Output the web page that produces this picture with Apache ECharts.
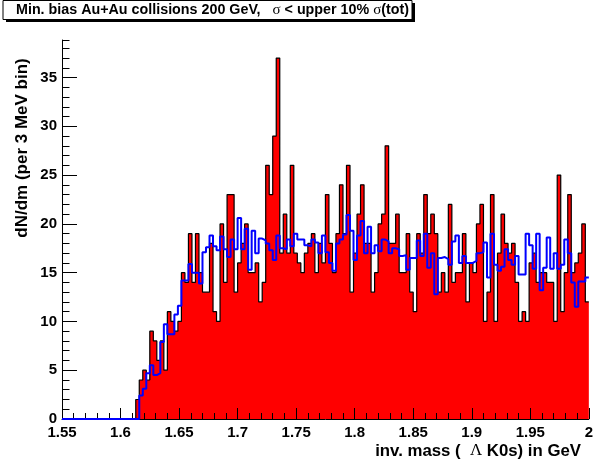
<!DOCTYPE html>
<html>
<head>
<meta charset="utf-8">
<script src="https://cdn.jsdelivr.net/npm/echarts@6/dist/echarts.min.js"></script>
<style>
  html, body { margin: 0; padding: 0; background: #fff; }
  #chart { width: 596px; height: 466px; }
</style>
</head>
<body>
<div id="chart"></div>
<script>
// entries per 3 MeV bin, 150 bins from 1.55 to 2.00 GeV
const signalCounts = [
  0, 0, 0, 0, 0, 0, 0, 0, 0, 0, 0, 0, 0, 0, 0, 0, 0, 0, 0, 0,
  0, 2, 4, 5, 4, 9, 8, 6, 8, 5,
  11, 10, 9, 10, 15, 14, 19, 14, 19, 15,
  13, 13, 18, 11, 10, 20, 14, 23, 23, 13,
  16, 18, 20, 15, 15, 16, 12, 14, 26, 23,
  29, 37, 17, 21, 17, 26, 17, 16, 15, 17,
  18, 19, 15, 18, 16, 23, 18, 15, 19, 24,
  19, 26, 13, 17, 21, 24, 18, 18, 13, 15,
  20, 21, 28, 18, 18, 21, 15, 15, 19, 13,
  11, 19, 17, 23, 19, 21, 19, 13, 15, 13,
  22, 14, 15, 15, 19, 12, 16, 15, 20, 22,
  10, 13, 23, 10, 17, 21, 18, 17, 18, 14,
  10, 11, 10, 16, 17, 14, 15, 15, 14, 14,
  10, 25, 11, 15, 23, 15, 16, 17, 20, 12
];

// mixed-event background (blue)
const backgroundLevel = [
  0, 0, 0, 0, 0, 0, 0, 0, 0, 0, 0, 0, 0, 0, 0, 0, 0, 0, 0, 0,
  0, 0, 2.4, 3.1, 4.7, 5.5, 4.5, 4.7, 7.9, 9.7,
  8.7, 8.7, 10.7, 11.6, 14.2, 14.2, 15.9, 15.0, 15.0, 13.9,
  17.1, 17.6, 18.8, 17.7, 17.3, 18.7, 17.4, 16.6, 18.4, 17.4,
  20.6, 17.4, 19.5, 15.3, 19.3, 17.0, 18.5, 18.3, 18.0, 17.3,
  16.3, 18.8, 17.5, 17.4, 18.4, 17.7, 19.0, 18.4, 18.4, 17.8,
  17.7, 18.4, 18.1, 17.0, 18.8, 17.1, 16.0, 15.2, 18.0, 18.4,
  18.9, 20.9, 19.3, 16.3, 18.8, 20.3, 17.0, 19.7, 17.0, 17.8,
  17.2, 18.4, 18.2, 17.0, 17.5, 17.4, 16.7, 16.8, 15.3, 16.5,
  16.5, 18.3, 16.7, 19.0, 15.5, 17.0, 12.8, 16.5, 16.6, 16.4,
  15.8, 18.2, 18.8, 16.0, 16.7, 16.0, 16.0, 16.2, 17.0, 17.1,
  18.1, 14.5, 19.0, 15.8, 15.2, 15.6, 17.4, 16.3, 15.8, 16.7,
  14.8, 14.8, 19.0, 17.8, 15.4, 19.0, 13.2, 15.5, 18.6, 15.4,
  17.0, 15.4, 15.8, 18.4, 17.0, 14.0, 11.5, 14.1, 14.1, 14.5
];

const X_MIN = 1.55;
const X_MAX = 2.0;
const BIN_WIDTH = 0.003;
const Y_MAX = 38.85;

const xTickValues = [1.55, 1.6, 1.65, 1.7, 1.75, 1.8, 1.85, 1.9, 1.95, 2.0];
const xTickLabels = ['1.55', '1.6', '1.65', '1.7', '1.75', '1.8', '1.85', '1.9', '1.95', '2'];
const yTickValues = [0, 5, 10, 15, 20, 25, 30, 35];
const yTickLabels = ['0', '5', '10', '15', '20', '25', '30', '35'];

const binLow = signalCounts.map((_, i) => +(X_MIN + BIN_WIDTH * i).toFixed(3));

// histogram as step line: left edge of each bin + closing point
const toSteps = vals => vals.map((v, i) => [binLow[i], v]).concat([[X_MAX, vals[vals.length - 1]]]);

const labelFor = (values, labels) => v => {
  const k = values.findIndex(t => Math.abs(t - v) < 1e-6);
  return k < 0 ? '' : labels[k];
};

const FONT = 'Liberation Sans, Arial, sans-serif';
const SYMB = 'Liberation Serif, DejaVu Serif, serif';

const chart = echarts.init(document.getElementById('chart'));

const tickText = { color: '#000', fontFamily: FONT, fontWeight: 'bold', fontSize: 15 };

chart.setOption({
  animation: false,
  backgroundColor: '#fff',
  grid: { left: 62, right: 2, top: 40, bottom: 47 },
  xAxis: [
    {
      type: 'value', position: 'bottom', min: X_MIN, max: X_MAX, interval: 0.05, z: 3,
      axisLine: { show: true, lineStyle: { color: '#000', width: 1 } },
      axisTick: { show: true, inside: true, length: 11, lineStyle: { color: '#000' } },
      axisLabel: Object.assign({ margin: 6, hideOverlap: false, formatter: labelFor(xTickValues, xTickLabels) }, tickText),
      splitLine: { show: false }
    },
    {
      type: 'value', position: 'bottom', min: X_MIN, max: X_MAX, interval: 0.01, z: 3,
      axisLine: { show: false },
      axisTick: { show: true, inside: true, length: 6, lineStyle: { color: '#000' } },
      axisLabel: { show: false },
      splitLine: { show: false }
    }
  ],
  yAxis: [
    {
      type: 'value', position: 'left', min: 0, max: Y_MAX, interval: 5, z: 3,
      axisLine: { show: true, lineStyle: { color: '#000', width: 1 } },
      axisTick: { show: true, inside: true, length: 15, lineStyle: { color: '#000' } },
      axisLabel: Object.assign({ margin: 5, showMaxLabel: false, formatter: labelFor(yTickValues, yTickLabels) }, tickText),
      splitLine: { show: false }
    },
    {
      type: 'value', position: 'left', min: 0, max: Y_MAX, interval: 1, z: 3,
      axisLine: { show: false },
      axisTick: { show: true, inside: true, length: 7.5, lineStyle: { color: '#000' } },
      axisLabel: { show: false },
      splitLine: { show: false }
    }
  ],
  series: [
    {
      name: 'signal',
      type: 'line',
      step: 'end',
      data: toSteps(signalCounts),
      symbol: 'none',
      clip: false,
      z: 1,
      lineStyle: { color: '#000', width: 1.2 },
      areaStyle: { color: '#ff0000', opacity: 1 }
    },
    {
      name: 'background',
      type: 'line',
      step: 'end',
      data: toSteps(backgroundLevel),
      symbol: 'none',
      clip: false,
      z: 4,
      lineStyle: { color: '#0000ff', width: 2 }
    }
  ],
  graphic: [
    { type: 'rect', shape: { x: 6, y: 3, width: 409, height: 19 }, style: { fill: '#000' }, z: 10 },
    { type: 'rect', shape: { x: 3, y: 0.5, width: 409, height: 19 }, style: { fill: '#fff', stroke: '#000', lineWidth: 1 }, z: 11 },
    {
      type: 'text', x: 16, y: 10.5, z: 12,
      style: {
        text: '{b|Min. bias Au+Au collisions 200 GeV,   }{s|σ}{b| < upper 10% }{s|σ}{b|(tot)}',
        verticalAlign: 'middle',
        rich: {
          b: { fontFamily: FONT, fontWeight: 'bold', fontSize: 14.3, fill: '#000' },
          s: { fontFamily: SYMB, fontSize: 15, fill: '#000' }
        }
      }
    },
    {
      type: 'text', x: 581, y: 451, z: 12,
      style: {
        text: '{b|inv. mass (  }{s|Λ}{b| K0s) in GeV}',
        align: 'right', verticalAlign: 'middle',
        rich: {
          b: { fontFamily: FONT, fontWeight: 'bold', fontSize: 16.8, fill: '#000' },
          s: { fontFamily: SYMB, fontSize: 16.8, fill: '#000' }
        }
      }
    },
    {
      type: 'text', x: 22, y: 148, rotation: Math.PI / 2, z: 12,
      style: {
        text: 'dN/dm (per 3 MeV bin)',
        align: 'center', verticalAlign: 'middle',
        fontFamily: FONT, fontWeight: 'bold', fontSize: 17, fill: '#000'
      }
    }
  ]
});
</script>
</body>
</html>
